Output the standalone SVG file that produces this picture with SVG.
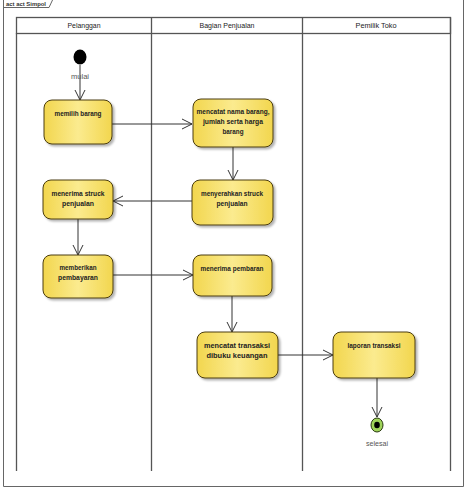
<svg xmlns="http://www.w3.org/2000/svg" width="466" height="489" viewBox="0 0 466 489">
<defs>
<linearGradient id="yg" x1="0" y1="0" x2="1" y2="0">
<stop offset="0" stop-color="#f2d64e"/>
<stop offset="0.5" stop-color="#fbeb8f"/>
<stop offset="1" stop-color="#f2d64e"/>
</linearGradient>
<filter id="sh" x="-10%" y="-10%" width="130%" height="130%">
<feDropShadow dx="2" dy="2" stdDeviation="1.2" flood-color="#000" flood-opacity="0.3"/>
</filter>
<marker id="arr" viewBox="0 0 12 12" refX="11" refY="6" markerWidth="12" markerHeight="12" markerUnits="userSpaceOnUse" orient="auto">
<path d="M1,1 L11,6 L1,11" fill="none" stroke="#333" stroke-width="1"/>
</marker>
</defs>
<style>
.act{fill:url(#yg);stroke:#4a3c10;stroke-width:1;filter:url(#sh)}
.t{font-family:"Liberation Sans",Arial,sans-serif;font-size:8px;font-weight:bold;fill:#222;text-anchor:middle}
.h{font-family:"Liberation Sans",Arial,sans-serif;font-size:8px;fill:#222;text-anchor:middle}
.lbl{font-family:"Liberation Sans",Arial,sans-serif;font-size:8px;fill:#555;text-anchor:middle}
.lane{fill:none;stroke:#555;stroke-width:1.3}
.c{fill:none;stroke:#333;stroke-width:1;marker-end:url(#arr)}
</style>
<rect x="0" y="0" width="466" height="489" fill="#fff"/>
<g id="frame">
<path d="M3.5,-1 V486.5 H463.5 V-1" fill="none" stroke="#666" stroke-width="1"/>
<path d="M3.5,7.5 H49 L53,-1" fill="none" stroke="#666" stroke-width="1"/>
<text x="6" y="5.5" font-family="Liberation Sans,Arial,sans-serif" font-size="6" font-weight="bold" fill="#333" textLength="40" lengthAdjust="spacingAndGlyphs">act act Simpol</text>
</g>
<g id="lanes">
<rect x="16.5" y="17.5" width="434" height="16" fill="none" stroke="#555" stroke-width="1.3"/>
<path class="lane" d="M16.5,33 V471 M151.5,17.5 V471 M302.5,17.5 V471 M450.5,17.5 V471"/>
<text class="h" x="84" y="28" textLength="33" lengthAdjust="spacingAndGlyphs">Pelanggan</text>
<text class="h" x="227" y="28" textLength="55" lengthAdjust="spacingAndGlyphs">Bagian Penjualan</text>
<text class="h" x="376" y="28" textLength="41" lengthAdjust="spacingAndGlyphs">Pemilik Toko</text>
</g>
<g id="connectors">
<path class="c" d="M80,65 V100"/>
<path class="c" d="M112,124 H192"/>
<path class="c" d="M233,147 V180"/>
<path class="c" d="M192,201 H113"/>
<path class="c" d="M78,219 V255"/>
<path class="c" d="M113,275 H193"/>
<path class="c" d="M232,296 V332"/>
<path class="c" d="M278,355 H333"/>
<path class="c" d="M377,378 V417"/>
</g>
<g id="mulai">
<ellipse cx="80" cy="57" rx="6.5" ry="7.5" fill="#000"/>
<text class="lbl" x="80" y="79" textLength="18" lengthAdjust="spacingAndGlyphs">mulai</text>
</g>
<g id="memilih-barang">
<rect class="act" x="44" y="100" width="68" height="44" rx="8"/>
<text class="t" x="78" y="116" textLength="47" lengthAdjust="spacingAndGlyphs">memilih barang</text>
</g>
<g id="mencatat-nama-barang">
<rect class="act" x="193" y="99" width="80" height="48" rx="8"/>
<text class="t" x="233" y="114" textLength="73" lengthAdjust="spacingAndGlyphs">mencatat nama barang,</text>
<text class="t" x="233" y="124" textLength="60" lengthAdjust="spacingAndGlyphs">jumlah serta harga</text>
<text class="t" x="233" y="134" textLength="21" lengthAdjust="spacingAndGlyphs">barang</text>
</g>
<g id="menyerahkan-struck">
<rect class="act" x="192" y="180" width="81" height="45" rx="8"/>
<text class="t" x="232" y="196" textLength="62" lengthAdjust="spacingAndGlyphs">menyerahkan struck</text>
<text class="t" x="232" y="206" textLength="31" lengthAdjust="spacingAndGlyphs">penjualan</text>
</g>
<g id="menerima-struck">
<rect class="act" x="43" y="180" width="70" height="39" rx="8"/>
<text class="t" x="78" y="196" textLength="53" lengthAdjust="spacingAndGlyphs">menerima struck</text>
<text class="t" x="78" y="206" textLength="32" lengthAdjust="spacingAndGlyphs">penjualan</text>
</g>
<g id="memberikan-pembayaran">
<rect class="act" x="43" y="255" width="70" height="43" rx="8"/>
<text class="t" x="78" y="270" textLength="37" lengthAdjust="spacingAndGlyphs">memberikan</text>
<text class="t" x="78" y="280" textLength="40" lengthAdjust="spacingAndGlyphs">pembayaran</text>
</g>
<g id="menerima-pembaran">
<rect class="act" x="193" y="255" width="79" height="41" rx="8"/>
<text class="t" x="232" y="271" textLength="63" lengthAdjust="spacingAndGlyphs">menerima pembaran</text>
</g>
<g id="mencatat-transaksi">
<rect class="act" x="197" y="332" width="81" height="46" rx="8"/>
<text class="t" x="237" y="348" textLength="66" lengthAdjust="spacingAndGlyphs">mencatat transaksi</text>
<text class="t" x="237" y="358" textLength="61" lengthAdjust="spacingAndGlyphs">dibuku keuangan</text>
</g>
<g id="laporan-transaksi">
<rect class="act" x="333" y="332" width="82" height="46" rx="8"/>
<text class="t" x="374" y="348" textLength="53" lengthAdjust="spacingAndGlyphs">laporan transaksi</text>
</g>
<g id="selesai">
<ellipse cx="377" cy="425" rx="6" ry="7" fill="#9fd35a" stroke="#2a3a10" stroke-width="1"/>
<ellipse cx="377" cy="425" rx="2.8" ry="3.3" fill="#000"/>
<text class="lbl" x="377" y="446" textLength="22" lengthAdjust="spacingAndGlyphs">selesai</text>
</g>
</svg>
